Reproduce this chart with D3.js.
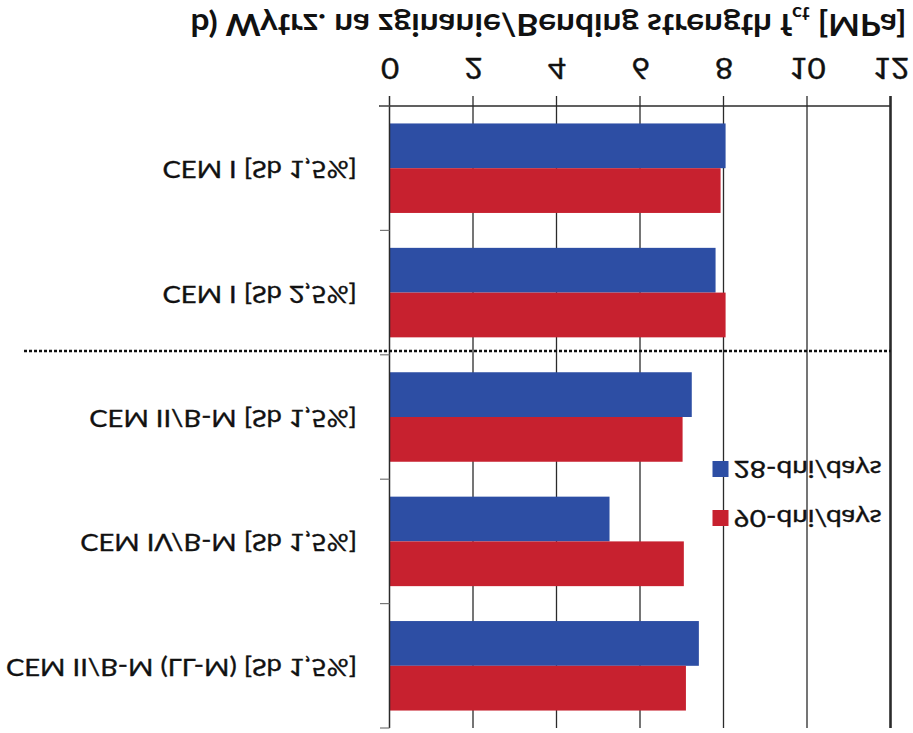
<!DOCTYPE html>
<html>
<head>
<meta charset="utf-8">
<script src="https://cdn.jsdelivr.net/npm/d3@7"></script>
<style>
  html, body { margin: 0; padding: 0; background: #fff; }
  svg { display: block; }
</style>
</head>
<body>
<script>
// ---- data ----
const categories = [
  "CEM I [Sb 1,5%]",
  "CEM I [Sb 2,5%]",
  "CEM II/B-M [Sb 1,5%]",
  "CEM IV/B-M [Sb 1,5%]",
  "CEM II/B-M (LL-M) [Sb 1,5%]"
];
const seriesNames = ["28-dni/days", "90-dni/days"];
const days28 = [8.05, 7.81, 7.24, 5.27, 7.41];
const days90 = [7.93, 8.05, 7.02, 7.05, 7.10];
const xTicks = [0, 2, 4, 6, 8, 10, 12];
const titleMain = "b) Wytrz. na zginanie/Bending strength f";
const titleSub = "ct";
const titleEnd = " [MPa]";

const W = 913, H = 733;
const colors = { "28-dni/days": "#2d4ea4", "90-dni/days": "#c7212f" };
const FONT = "Lato, sans-serif";
const INK = "#111";

const svg = d3.select("body").append("svg").attr("width", W).attr("height", H);
svg.append("rect").attr("width", W).attr("height", H).attr("fill", "#fff");

// The reference is the chart mirrored top-to-bottom: draw the chart, then flip it.
const g = svg.append("g").attr("transform", `translate(0,${H}) scale(1,-1)`);

const plot = { left: 389.5, right: 890.5, top: 5, bottom: 627 };
const x = d3.scaleLinear().domain([0, 12]).range([plot.left, plot.right]);
const y = d3.scaleBand().domain(categories).range([plot.bottom, plot.top]);
const inner = d3.scaleBand().domain(["90-dni/days", "28-dni/days"])
  .range([0, y.bandwidth()]).paddingOuter(0.39);

// gridlines
g.append("g").selectAll("line").data(xTicks.filter(d => d > 0)).join("line")
  .attr("x1", d => x(d)).attr("x2", d => x(d))
  .attr("y1", plot.top).attr("y2", plot.bottom + 10)
  .attr("stroke", "#2b2b2b").attr("stroke-width", d => d === 12 ? 2.6 : 1.3);

// bars
const rows = categories.map((c, i) => ({ c, vals: [
  { s: "28-dni/days", v: days28[i] }, { s: "90-dni/days", v: days90[i] } ] }));
const grp = g.append("g").selectAll("g").data(rows).join("g")
  .attr("transform", d => `translate(0,${y(d.c)})`);
grp.selectAll("rect").data(d => d.vals).join("rect")
  .attr("x", x(0)).attr("y", d => inner(d.s))
  .attr("width", d => x(d.v) - x(0)).attr("height", inner.bandwidth())
  .attr("fill", d => colors[d.s]);

// x axis line + left axis line
g.append("line").attr("x1", 379).attr("x2", plot.right)
  .attr("y1", plot.bottom).attr("y2", plot.bottom)
  .attr("stroke", "#2b2b2b").attr("stroke-width", 1.5);
g.append("line").attr("x1", x(0)).attr("x2", x(0))
  .attr("y1", plot.top).attr("y2", plot.bottom + 10)
  .attr("stroke", "#2b2b2b").attr("stroke-width", 1.5);

// x tick labels via axis
const xAxis = d3.axisBottom(x).tickValues(xTicks).tickSize(0).tickPadding(27);
const ax = g.append("g").attr("transform", `translate(0,${plot.bottom})`).call(xAxis);
ax.select(".domain").remove();
ax.selectAll("text").attr("font-family", FONT).attr("font-size", 29)
  .attr("fill", INK).attr("stroke", INK).attr("stroke-width", 0.4)
  .attr("transform", "scale(1.08,1)");

// category boundary ticks
const bounds = categories.map(c => y(c)).concat([plot.bottom]);
g.append("g").selectAll("line").data(bounds).join("line")
  .attr("x1", 380).attr("x2", plot.left).attr("y1", d => d).attr("y2", d => d)
  .attr("stroke", "#777").attr("stroke-width", 1.2);

// category labels (font is set wide, as in the reference)
g.append("g").selectAll("text").data(categories).join("text")
  .attr("transform", d => `translate(357,${y(d) + y.bandwidth() / 2 + 7}) scale(1.19,1)`)
  .attr("text-anchor", "end")
  .attr("font-family", FONT).attr("font-size", 23)
  .attr("fill", INK).attr("stroke", INK).attr("stroke-width", 0.35)
  .text(d => d);

// dotted separator
g.append("line").attr("x1", 24).attr("x2", plot.right).attr("y1", 382).attr("y2", 382)
  .attr("stroke", "#111").attr("stroke-width", 2.5).attr("stroke-dasharray", "3,2");

// legend
const legY = { "90-dni/days": 215, "28-dni/days": 264 };
const leg = g.append("g").selectAll("g").data(seriesNames).join("g")
  .attr("transform", d => `translate(712.5,${legY[d]})`);
leg.append("rect").attr("x", 0).attr("y", -8).attr("width", 16).attr("height", 16)
  .attr("fill", d => colors[d]);
leg.append("text").attr("transform", "translate(21,8) scale(1.22,1)").text(d => d)
  .attr("font-family", FONT).attr("font-size", 23)
  .attr("fill", INK).attr("stroke", INK).attr("stroke-width", 0.35);

// title
const t = g.append("text").attr("transform", "translate(548.5,719) scale(1.08,1)")
  .attr("text-anchor", "middle")
  .attr("font-family", FONT).attr("font-weight", "bold")
  .attr("font-size", 31).attr("fill", INK);
t.append("tspan").text(titleMain);
t.append("tspan").text(titleSub).attr("font-size", 19).attr("dy", 7);
t.append("tspan").text(titleEnd).attr("dy", -7);
</script>
</body>
</html>
